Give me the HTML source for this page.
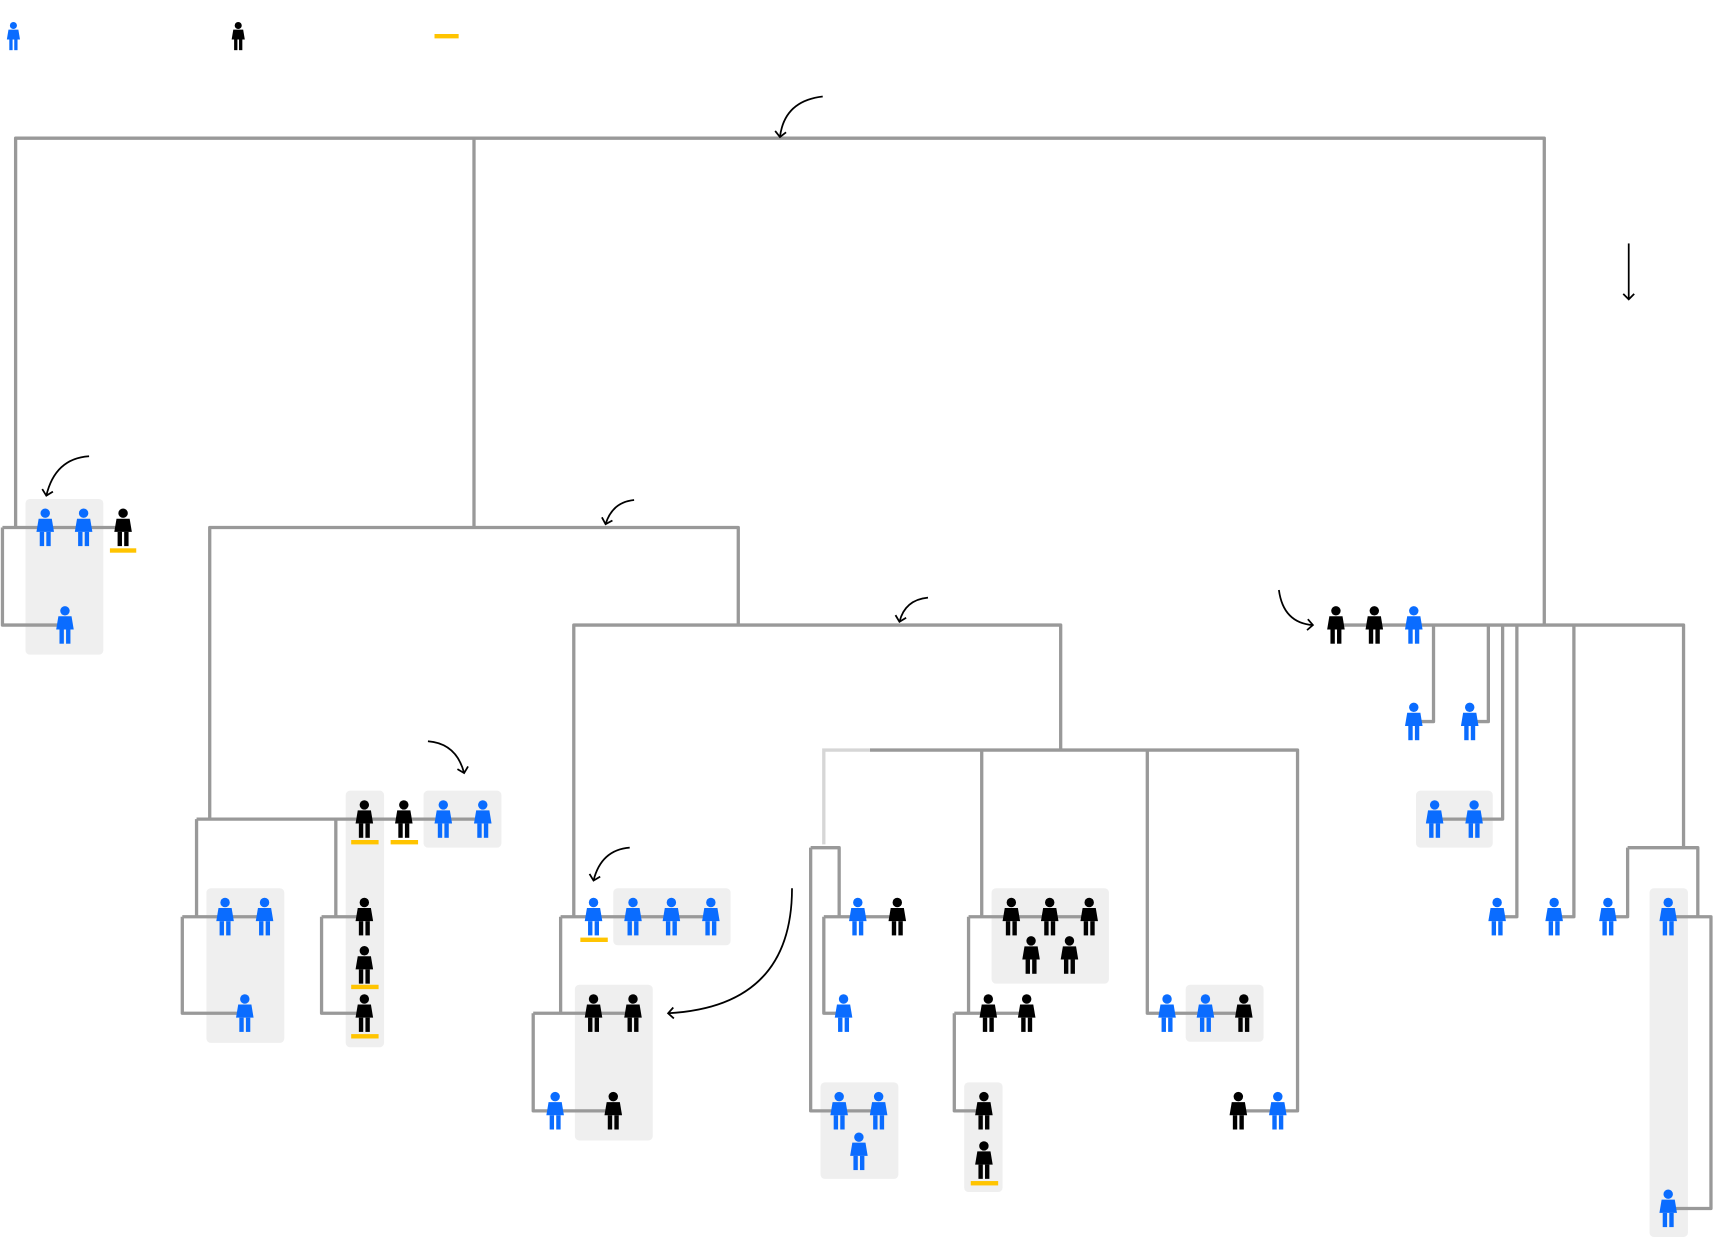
<!DOCTYPE html>
<html><head><meta charset="utf-8"><style>html,body{margin:0;padding:0;background:#fff;}svg{display:block}</style></head>
<body>
<svg width="1720" height="1260" viewBox="0 0 1568 1149" xmlns="http://www.w3.org/2000/svg">
<defs>
<g id="p"><circle cx="0" cy="-13" r="4.3"/><path d="M-6,-8 L6,-8 L8,4 L-8,4 Z"/><rect x="-5" y="4" width="4" height="13"/><rect x="1" y="4" width="4" height="13"/></g>
<marker id="ah" markerWidth="12" markerHeight="12" refX="6" refY="6" orient="auto" markerUnits="userSpaceOnUse"><path d="M1,1 L6,6 L1,11" fill="none" stroke="#000" stroke-width="1.6"/></marker>
</defs>
<g fill="#efefef">
<rect x="23" y="455" width="71" height="142" rx="4"/>
<rect x="315" y="721" width="35" height="234" rx="4"/>
<rect x="386" y="721" width="71" height="52" rx="4"/>
<rect x="188" y="810" width="71" height="141" rx="4"/>
<rect x="559" y="810" width="107" height="52" rx="4"/>
<rect x="524" y="898" width="71" height="142" rx="4"/>
<rect x="748" y="987" width="71" height="88" rx="4"/>
<rect x="904" y="810" width="107" height="87" rx="4"/>
<rect x="879" y="987" width="35" height="100" rx="4"/>
<rect x="1081" y="898" width="71" height="52" rx="4"/>
<rect x="1291" y="721" width="70" height="52" rx="4"/>
<rect x="1504" y="810" width="35" height="318" rx="4"/>
</g>
<g fill="none" stroke="#999" stroke-width="3" stroke-linejoin="round">
<path d="M14,481 V126 H1408 V570"/>
<path d="M432,126 V481"/>
<path d="M2,481 H112 M2,481 V570 H59"/>
<path d="M191,747 V481 H673 V570"/>
<path d="M179,747 H440 M179,747 V836 M166,836 H241 M166,836 V924 H223"/>
<path d="M306,747 V836 M293,836 H332 M293,836 V924 H332"/>
<path d="M523,836 V570 H967 V684"/>
<path d="M511,836 H648 M511,836 V924 M486,924 H577 M486,924 V1013 H559"/>
<path d="M793,684 H1183 V1013 H1129"/>
<path d="M751,773 H765 V836 M739,773 H751 M739,773 V1013 H801 M751,836 H818 M751,836 V924 H769"/>
<path d="M895,684 V836 M883,836 H993 M883,836 V924 M870,924 H936 M870,924 V1013 H897"/>
<path d="M1046,684 V924 H1134"/>
<path d="M1218,570 H1535 V773 M1307,570 V658 H1289 M1357,570 V658 H1340 M1370,570 V747 H1308 M1383,570 V836 H1365 M1435,570 V836 H1417 M1484,773 H1548 V836 M1484,773 V836 H1466 M1521,836 H1560 V1102 H1521"/>
</g>
<path d="M751,770 V684 H793" fill="none" stroke="#d6d6d6" stroke-width="3"/>
<g fill="#ffc400">
<rect x="396" y="31" width="22" height="4"/>
<rect x="100" y="500" width="24" height="4"/>
<rect x="320" y="766" width="25" height="4"/>
<rect x="356" y="766" width="25" height="4"/>
<rect x="320" y="898" width="25" height="4"/>
<rect x="320" y="943" width="25" height="4"/>
<rect x="529" y="855" width="25" height="4"/>
<rect x="885" y="1077" width="25" height="4"/>
</g>
<g fill="#0a6cff">
<use href="#p" transform="translate(12,33) scale(0.75)"/>
<use href="#p" x="41" y="481"/><use href="#p" x="76" y="481"/><use href="#p" x="59" y="570"/>
<use href="#p" x="404" y="747"/><use href="#p" x="440" y="747"/>
<use href="#p" x="205" y="836"/><use href="#p" x="241" y="836"/><use href="#p" x="223" y="924"/>
<use href="#p" x="541" y="836"/><use href="#p" x="577" y="836"/><use href="#p" x="612" y="836"/><use href="#p" x="648" y="836"/>
<use href="#p" x="506" y="1013"/>
<use href="#p" x="782" y="836"/><use href="#p" x="769" y="924"/>
<use href="#p" x="765" y="1013"/><use href="#p" x="801" y="1013"/><use href="#p" x="783" y="1050"/>
<use href="#p" x="1064" y="924"/><use href="#p" x="1099" y="924"/><use href="#p" x="1165" y="1013"/>
<use href="#p" x="1289" y="570"/><use href="#p" x="1289" y="658"/><use href="#p" x="1340" y="658"/>
<use href="#p" x="1308" y="747"/><use href="#p" x="1344" y="747"/>
<use href="#p" x="1365" y="836"/><use href="#p" x="1417" y="836"/><use href="#p" x="1466" y="836"/>
<use href="#p" x="1521" y="836"/><use href="#p" x="1521" y="1102"/>
</g>
<g fill="#000">
<use href="#p" transform="translate(217,33) scale(0.75)"/>
<use href="#p" x="112" y="481"/>
<use href="#p" x="332" y="747"/><use href="#p" x="368" y="747"/>
<use href="#p" x="332" y="836"/><use href="#p" x="332" y="880"/><use href="#p" x="332" y="924"/>
<use href="#p" x="541" y="924"/><use href="#p" x="577" y="924"/><use href="#p" x="559" y="1013"/>
<use href="#p" x="818" y="836"/>
<use href="#p" x="922" y="836"/><use href="#p" x="957" y="836"/><use href="#p" x="993" y="836"/>
<use href="#p" x="940" y="871"/><use href="#p" x="975" y="871"/>
<use href="#p" x="901" y="924"/><use href="#p" x="936" y="924"/>
<use href="#p" x="897" y="1013"/><use href="#p" x="897" y="1058"/>
<use href="#p" x="1134" y="924"/>
<use href="#p" x="1129" y="1013"/>
<use href="#p" x="1218" y="570"/><use href="#p" x="1253" y="570"/>
</g>
<g fill="none" stroke="#000" stroke-width="1.6" marker-end="url(#ah)">
<path d="M750,88 Q715,92 711,125"/>
<path d="M81,416 Q50,418 42,452"/>
<path d="M578,456 Q558,458 552,478"/>
<path d="M846,545 Q825,547 820,567"/>
<path d="M390,676 Q416,678 423,705"/>
<path d="M574,773 Q548,775 541,803"/>
<path d="M722,810 Q722,918 609,924"/>
<path d="M1166,538 Q1170,568 1197,570"/>
<path d="M1485,222 V273"/>
</g>
</svg>
</body></html>
